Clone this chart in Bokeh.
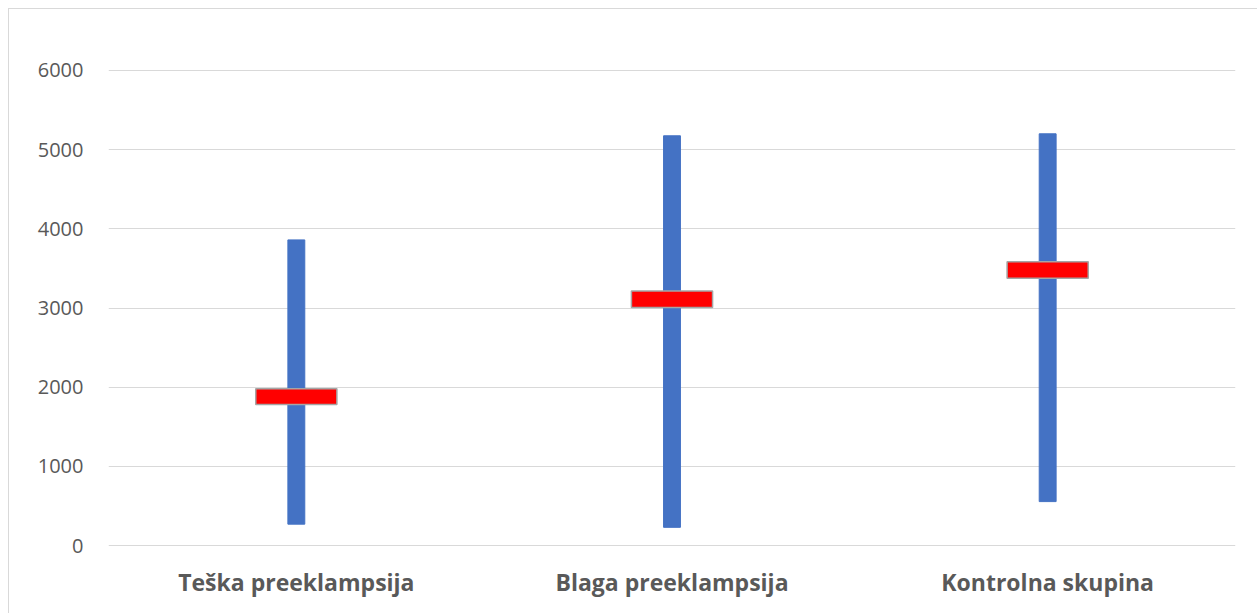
from bokeh.plotting import figure
from bokeh.models import Range1d, FactorRange, FixedTicker
from bokeh.embed import file_html
from bokeh.resources import INLINE

categories = ["Teška preeklampsija", "Blaga preeklampsija", "Kontrolna skupina"]
range_min = [270, 230, 555]
range_max = [3860, 5175, 5200]
box_low = [1780, 3005, 3375]
box_high = [1980, 3215, 3585]
y_ticks = [0, 1000, 2000, 3000, 4000, 5000, 6000]

p = figure(width=1249, height=605, x_range=FactorRange(*categories),
           y_range=Range1d(-50, 6050), output_backend="svg", toolbar_location=None,
           min_border_left=99, min_border_right=23, min_border_top=57, min_border_bottom=65)
p.styles = {"margin-left": "8px", "margin-top": "8px",
            "border-top": "1px solid #d9d9d9", "border-left": "1px solid #d9d9d9"}
p.outline_line_color = None
p.background_fill_color = "white"
p.border_fill_color = "white"

p.vbar(x=categories, bottom=range_min, top=range_max, width=0.045,
       fill_color="#4472C4", line_color="#4472C4", line_width=1)
p.vbar(x=categories, bottom=box_low, top=box_high, width=0.216,
       fill_color="#FF0000", line_color="#A5A5A5", line_width=1.5)

p.yaxis.ticker = FixedTicker(ticks=y_ticks)
p.yaxis.axis_line_color = None
p.yaxis.major_tick_line_color = None
p.yaxis.minor_tick_line_color = None
p.yaxis.major_label_text_font = "Open Sans"
p.yaxis.major_label_text_font_size = "20px"
p.yaxis.major_label_text_color = "#595959"
p.yaxis.major_label_standoff = 19

p.xaxis.axis_line_color = None
p.xaxis.major_tick_line_color = None
p.xaxis.minor_tick_line_color = None
p.xaxis.major_label_text_font = "Open Sans"
p.xaxis.major_label_text_font_style = "bold"
p.xaxis.major_label_text_font_size = "23px"
p.xaxis.major_label_text_color = "#595959"
p.xaxis.major_label_standoff = 10

p.xgrid.grid_line_color = None
p.ygrid.ticker = FixedTicker(ticks=y_ticks)
p.ygrid.grid_line_color = "#d9d9d9"
p.ygrid.grid_line_width = 1

open("out.html", "w").write(file_html(p, INLINE))
